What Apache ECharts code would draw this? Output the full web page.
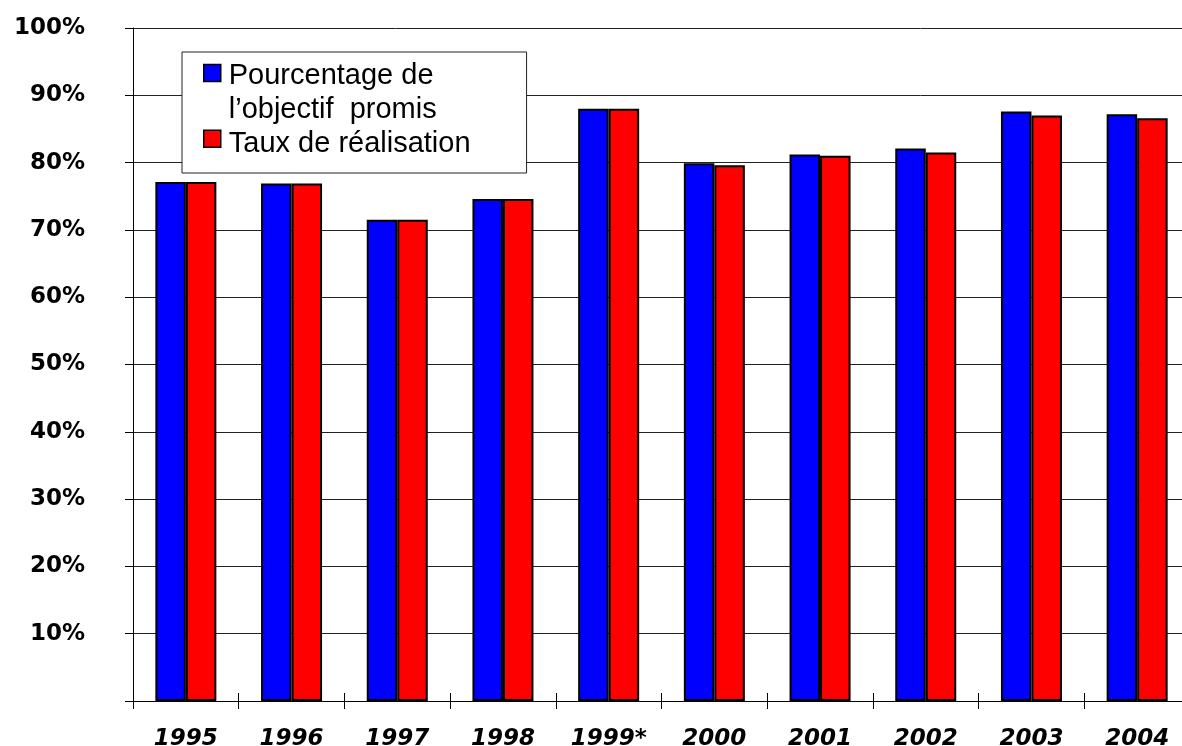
<!DOCTYPE html>
<html>
<head>
<meta charset="utf-8">
<script src="https://cdn.jsdelivr.net/npm/echarts@6/dist/echarts.min.js"></script>
<style>
  html, body { margin: 0; padding: 0; background: #fff; }
  #chart { width: 1182px; height: 746px; }
</style>
</head>
<body>
<div id="chart"></div>
<script>
// données
const annees = ['1995', '1996', '1997', '1998', '1999*', '2000', '2001', '2002', '2003', '2004']
const pourcentageObjectif = [77.1, 76.9, 71.5, 74.6, 88.0, 79.9, 81.2, 82.1, 87.6, 87.2]
const tauxRealisation = [77.1, 76.9, 71.5, 74.6, 88.0, 79.6, 81.0, 81.5, 87.0, 86.6]

const nomObjectif = 'Pourcentage de\nl’objectif  promis'
const nomTaux = 'Taux de réalisation'

// le texte de légende est centré sur l'icône : on agrandit la boîte de l'icône
// (points invisibles) pour placer le carré en face de la bonne ligne
const iconeObjectif = 'path://M0,0H17V17H0Z M20,57'
const iconeTaux = 'path://M0,15H17V32H0Z M0,0 M20,57'

const myChart = echarts.init(document.getElementById('chart'))

const option = {
    backgroundColor: '#fff',
    animation: false,
    grid: {
        left: 133,
        top: 28,
        width: 1057,
        height: 673,
        outerBoundsMode: 'none'
    },
    legend: {
        orient: 'vertical',
        left: 182,
        top: 52,
        padding: [7, 56, 0, 21],
        itemWidth: 20,
        itemHeight: 57,
        itemGap: -12.5,
        backgroundColor: '#fff',
        borderColor: '#222',
        borderWidth: 1,
        itemStyle: {
            borderColor: '#000',
            borderWidth: 1.5
        },
        textStyle: {
            color: '#000',
            fontFamily: 'Liberation Sans',
            fontSize: 29,
            lineHeight: 34
        },
        data: [
            { name: nomObjectif, icon: iconeObjectif },
            { name: nomTaux, icon: iconeTaux }
        ]
    },
    xAxis: [{
        type: 'category',
        data: annees,
        axisLine: {
            lineStyle: { color: '#000', width: 1 }
        },
        axisTick: {
            show: true,
            length: 8,
            lineStyle: { color: '#000' }
        },
        axisLabel: {
            margin: 27,
            color: '#000',
            fontFamily: 'DejaVu Sans',
            fontWeight: 'bold',
            fontStyle: 'italic',
            fontSize: 23
        }
    }, {
        // ticks vers l'intérieur, pour qu'ils traversent l'axe
        type: 'category',
        data: annees,
        position: 'bottom',
        axisLine: { show: false },
        axisLabel: { show: false },
        axisTick: {
            show: true,
            inside: true,
            length: 8,
            lineStyle: { color: '#000' }
        }
    }],
    yAxis: {
        type: 'value',
        min: 0,
        max: 100,
        interval: 10,
        axisLine: {
            show: true,
            lineStyle: { color: '#000' }
        },
        axisTick: {
            show: true,
            length: 8,
            lineStyle: { color: '#000' }
        },
        axisLabel: {
            margin: 48,
            color: '#000',
            fontFamily: 'DejaVu Sans',
            fontWeight: 'bold',
            fontSize: 23,
            formatter: function (v) {
                return v === 0 ? '' : v + '%'
            }
        },
        splitLine: {
            show: true,
            lineStyle: { color: '#222', width: 1 }
        }
    },
    series: [{
        name: nomObjectif,
        type: 'bar',
        data: pourcentageObjectif,
        barWidth: 30.5,
        barGap: '0%',
        itemStyle: {
            color: '#0000ff',
            borderColor: '#000',
            borderWidth: 2
        }
    }, {
        name: nomTaux,
        type: 'bar',
        data: tauxRealisation,
        barWidth: 30.5,
        barGap: '0%',
        itemStyle: {
            color: '#ff0000',
            borderColor: '#000',
            borderWidth: 2
        }
    }]
}

myChart.setOption(option)
</script>
</body>
</html>
